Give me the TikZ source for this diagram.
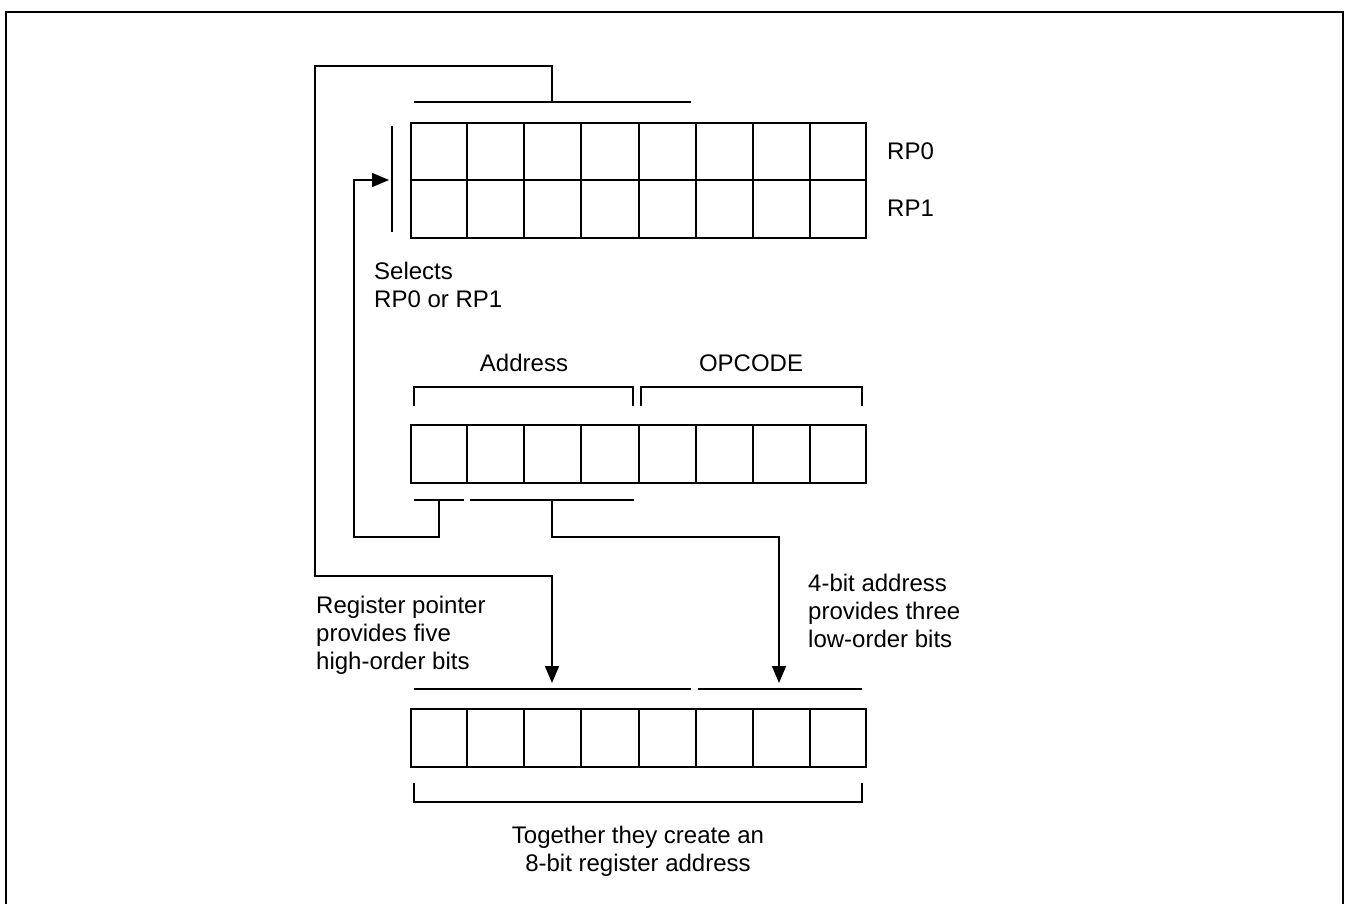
\documentclass[tikz,border=0pt]{standalone}
\usepackage{fontspec}
\setmainfont{Liberation Sans}
\usetikzlibrary{arrows.meta,calc}
\begin{document}
\begin{tikzpicture}[x=1pt,y=-1pt,
  frame/.style={line width=2.5pt},
  grid/.style={line width=2pt},
  bar/.style={line width=1.6pt},
  wire/.style={line width=1.5pt},
  arr/.style={wire,-{Triangle[length=17pt,width=14pt]}},
  lbl/.style={inner sep=0pt,font=\fontsize{24}{28}\selectfont},
  reg/.style={draw,grid,minimum width=455pt,minimum height=57.5pt,inner sep=0pt,anchor=north west}
]
\useasboundingbox (0,0) rectangle (1348,904);
\draw[frame] (6,905) -- (6,12) -- (1343,12) -- (1343,905);

% registers
\node[reg] (rp0) at (410,122) {};
\node[reg] (rp1) at (410,179.5) {};
\node[reg] (ins) at (410,424) {};
\node[reg] (res) at (410,708) {};
\foreach \r in {rp0,rp1,ins,res}{
  \foreach \i in {1,...,7}{
    \draw[grid] ($(\r.north west)!\i/8!(\r.north east)$) -- ($(\r.south west)!\i/8!(\r.south east)$);
  }
}

% labels (base anchor = baseline of the last line)
\node[lbl,anchor=base west] (lrp0) at (887,159.5) {RP0};
\node[lbl,anchor=base west] (lrp1) at (887,216.5) {RP1};
\node[lbl,anchor=base west,align=left] (lsel) at (374,307) {Selects\\RP0 or RP1};
\node[lbl,anchor=base] (laddr) at (524,371.5) {Address};
\node[lbl,anchor=base] (lop) at (751,371.5) {OPCODE};
\node[lbl,anchor=base west,align=left] (lfour) at (808,647) {4-bit address\\provides three\\low-order bits};
\node[lbl,anchor=base west,align=left] (lreg) at (316,669) {Register pointer\\provides five\\high-order bits};
\node[lbl,anchor=base,align=center] (ltog) at (638,871) {Together they create an\\8-bit register address};

% bars and brackets
\coordinate (tbL) at (414,102); \coordinate (tbR) at (691,102);
\draw[bar] (tbL) -- (tbR);
\coordinate (tbM) at (552,102);
\coordinate (selT) at (392,126); \coordinate (selB) at (392,232);
\draw[bar] (selT) -- (selB);
\draw[bar] (414,406) -- (414,387) -- (633,387) -- (633,406);
\draw[bar] (641,406) -- (641,387) -- (862,387) -- (862,406);
\draw[bar] (414,500) -- (464,500);
\draw[bar] (470,500) -- (634,500);
\coordinate (lb1) at (439,500);
\coordinate (lb2) at (552,500);
\draw[bar] (414,689) -- (691,689);
\draw[bar] (698,689) -- (862,689);
\draw[bar] (414,783) -- (414,802) -- (862,802) -- (862,783);

% connectors
\coordinate (tipA) at (552,683);
\coordinate (tipB) at (779,683);
\coordinate (tipS) at (389,180);
\draw[arr] (tbM) -- (552,66) -- (315,66) -- (315,576) -- (552,576) -- (tipA);
\draw[arr] (lb1) -- (439,537) -- (354,537) -- (354,180) -- (tipS);
\draw[arr] (lb2) -- (552,537) -- (779,537) -- (tipB);
\end{tikzpicture}
\end{document}
